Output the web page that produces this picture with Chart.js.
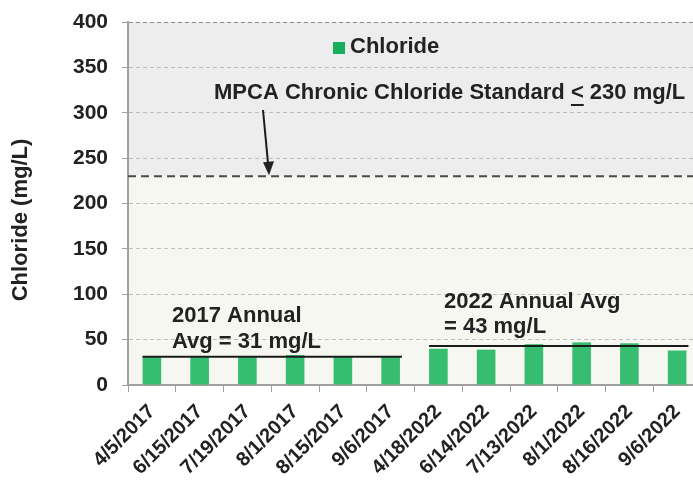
<!DOCTYPE html>
<html>
<head>
<meta charset="utf-8">
<script src="https://cdn.jsdelivr.net/npm/chart.js@4"></script>
<style>
  html, body { margin: 0; padding: 0; background: #fff; overflow: hidden; }
  #wrap { width: 701px; height: 483px; }
</style>
</head>
<body>
<div id="wrap"><canvas id="chart"></canvas></div>
<script>
'use strict';

// sampling dates and chloride results (mg/L)
var dates = ['4/5/2017', '6/15/2017', '7/19/2017', '8/1/2017', '8/15/2017', '9/6/2017',
             '4/18/2022', '6/14/2022', '7/13/2022', '8/1/2022', '8/16/2022', '9/6/2022'];
var chloride = [31, 31, 31, 33, 31, 31, 40, 39, 45, 47, 46, 38];

// annual averages: first index, last index, value
var avgStart = [0, 6];
var avgEnd = [5, 11];
var avgValues = [31, 43];

var standard = 230;
var yTicks = [0, 50, 100, 150, 200, 250, 300, 350, 400];

var FONT = '"Liberation Sans", Arial, sans-serif';
var TEXT = '#222222';

/***** CUSTOM DRAWING *****/
var zonesPlugin = {
   id: 'zones',
   beforeDraw: function (chart) {
      var ctx = chart.ctx, a = chart.chartArea, y = chart.scales.y;
      var yStd = y.getPixelForValue(standard);
      ctx.save();
      ctx.fillStyle = '#ededed';
      ctx.fillRect(a.left, a.top, a.right - a.left, yStd - a.top);
      ctx.fillStyle = '#f7f7f2';
      ctx.fillRect(a.left, yStd, a.right - a.left, a.bottom - yStd);
      ctx.restore();
   }
};

var overlayPlugin = {
   id: 'overlay',
   afterDatasetsDraw: function (chart) {
      var ctx = chart.ctx, a = chart.chartArea;
      var x = chart.scales.x, y = chart.scales.y;
      var bar = chart.getDatasetMeta(0).data[0];
      var half = bar.width / 2;
      ctx.save();

      // standard line
      var yStd = y.getPixelForValue(standard);
      ctx.strokeStyle = '#4a4a4a';
      ctx.lineWidth = 2;
      ctx.setLineDash([8, 5]);
      ctx.beginPath();
      ctx.moveTo(a.left, yStd);
      ctx.lineTo(a.right, yStd);
      ctx.stroke();
      ctx.setLineDash([]);

      // annual average lines
      ctx.strokeStyle = '#1a1a1a';
      ctx.lineWidth = 2;
      for (var i = 0; i < avgValues.length; i++) {
         var yy = y.getPixelForValue(avgValues[i]);
         ctx.beginPath();
         ctx.moveTo(x.getPixelForValue(avgStart[i]) - half, yy);
         ctx.lineTo(x.getPixelForValue(avgEnd[i]) + half + 2, yy);
         ctx.stroke();
      }

      // labels
      ctx.fillStyle = TEXT;
      ctx.font = 'bold 22px ' + FONT;
      ctx.textBaseline = 'middle';
      ctx.textAlign = 'left';
      ctx.fillText('2017 Annual', 172, 316);
      ctx.fillText('Avg = 31 mg/L', 172, 342);
      ctx.fillText('2022 Annual Avg', 444, 302);
      ctx.fillText('= 43 mg/L', 444, 327);

      // standard label with underlined "<"
      var s1 = 'MPCA Chronic Chloride Standard ';
      var s2 = '<';
      var s3 = ' 230 mg/L';
      var tx = 214, ty = 93;
      ctx.fillText(s1, tx, ty);
      var w1 = ctx.measureText(s1).width;
      var w2 = ctx.measureText(s2).width;
      ctx.fillText(s2, tx + w1, ty);
      ctx.fillText(s3, tx + w1 + w2, ty);
      ctx.fillRect(tx + w1, ty + 11, w2, 2);

      // arrow
      var x0 = 263, y0 = 110, x1 = 269, y1 = yStd - 1;
      ctx.strokeStyle = '#1a1a1a';
      ctx.lineWidth = 2;
      ctx.beginPath();
      ctx.moveTo(x0, y0);
      ctx.lineTo(x1 - 0.8, y1 - 10);
      ctx.stroke();
      ctx.beginPath();
      ctx.moveTo(x1, y1);
      ctx.lineTo(x1 - 6, y1 - 13);
      ctx.lineTo(x1 + 5, y1 - 14);
      ctx.closePath();
      ctx.fill();

      // legend
      ctx.fillStyle = '#14ae5c';
      ctx.fillRect(333, 42, 12, 12);
      ctx.fillStyle = TEXT;
      ctx.font = 'bold 22px ' + FONT;
      ctx.fillText('Chloride', 350, 47);

      // y axis title
      ctx.translate(21, 220);
      ctx.rotate(-Math.PI / 2);
      ctx.textAlign = 'center';
      ctx.fillText('Chloride (mg/L)', 0, 0);

      ctx.restore();
   }
};

/***** CHART *****/
new Chart(document.getElementById('chart'), {
   type: 'bar',
   data: {
      labels: dates,
      datasets: [{
         label: 'Chloride',
         data: chloride,
         backgroundColor: 'rgb(55,189,111)',
         borderWidth: 0,
         categoryPercentage: 1,
         barPercentage: 0.39
      }]
   },
   options: {
      responsive: true,
      maintainAspectRatio: false,
      animation: false,
      layout: { padding: { top: 22, left: 0, right: 0, bottom: 0 } },
      plugins: {
         legend: { display: false },
         tooltip: { enabled: false }
      },
      scales: {
         x: {
            grid: {
               offset: true,
               drawOnChartArea: false,
               drawTicks: true,
               tickLength: 7,
               tickColor: '#a0a0a0'
            },
            border: { color: '#a0a0a0', width: 2 },
            ticks: {
               autoSkip: false,
               maxRotation: 45,
               minRotation: 45,
               padding: 8,
               color: TEXT,
               font: { family: FONT, size: 20, weight: 'bold' }
            },
            afterFit: function (axis) {
               axis.height = 98;
               axis.paddingLeft = 0;
               axis.paddingRight = 0;
            }
         },
         y: {
            min: 0,
            max: 400,
            afterBuildTicks: function (axis) {
               axis.ticks = yTicks.map(function (v) { return { value: v }; });
            },
            grid: {
               color: function (c) { return c.tick.value === 400 ? '#8a8a8a' : '#bdbdbd'; },
               lineWidth: 1,
               tickBorderDash: [],
               tickColor: '#a0a0a0',
               tickLength: 6
            },
            border: { color: '#a0a0a0', width: 2, dash: [4, 3] },
            ticks: {
               padding: 14,
               color: TEXT,
               font: { family: FONT, size: 21, weight: 'bold' }
            },
            afterFit: function (axis) {
               axis.width = 128;
               axis.paddingTop = 0;
               axis.paddingBottom = 0;
            }
         }
      }
   },
   plugins: [zonesPlugin, overlayPlugin]
});
</script>
</body>
</html>
